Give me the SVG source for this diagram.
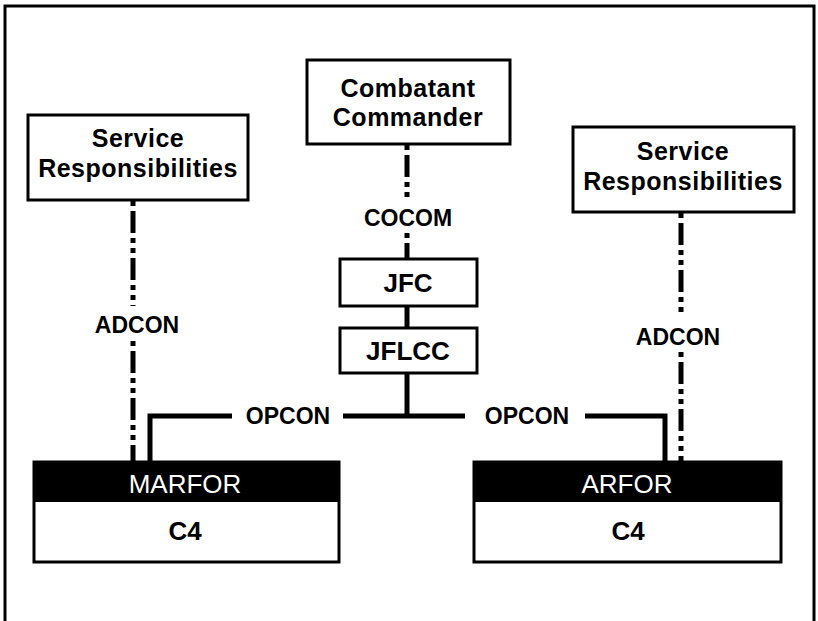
<svg xmlns="http://www.w3.org/2000/svg" width="818" height="621" viewBox="0 0 818 621">
<style>
.box{fill:#fff;stroke:#000;stroke-width:3}
.t{font-family:"Liberation Sans",Arial,sans-serif;font-weight:bold;font-size:26px;fill:#000;text-anchor:middle}
.m{font-family:"Liberation Sans",Arial,sans-serif;font-weight:bold;font-size:25px;letter-spacing:0.5px;fill:#000;text-anchor:middle}
.l{font-family:"Liberation Sans",Arial,sans-serif;font-weight:bold;font-size:23px;fill:#000;text-anchor:middle}
.w{font-family:"Liberation Sans",Arial,sans-serif;font-size:26px;fill:#fff;text-anchor:middle}
.solid{fill:none;stroke:#000;stroke-width:5}
.dash{fill:none;stroke:#000;stroke-width:5;stroke-dasharray:5 5 22 5 5 5}
</style>
<rect width="818" height="621" fill="#fff"/>
<path d="M5,621 V6 H814 V621" fill="none" stroke="#000" stroke-width="3"/>
<g id="connectors">
<path class="dash" d="M133,201 V306"/>
<path class="dash" d="M133,341 V461"/>
<path class="dash" d="M407,145 V198"/>
<path class="dash" d="M407,233 V258"/>
<path class="dash" d="M681,213 V316"/>
<path class="dash" d="M681,352 V461"/>
<path class="solid" d="M407,306 V328"/>
<path class="solid" d="M407,373 V416"/>
<path class="solid" d="M150,461 V416 H232"/>
<path class="solid" d="M343,416 H465"/>
<path class="solid" d="M585,416 H665 V461"/>
<text class="l" x="137" y="333">ADCON</text>
<text class="l" x="678" y="345">ADCON</text>
<text class="l" x="408" y="226">COCOM</text>
<text class="l" x="288" y="424">OPCON</text>
<text class="l" x="527" y="424">OPCON</text>
</g>
<g id="service-left">
<rect class="box" x="28" y="115" width="220" height="85"/>
<text class="m" x="138" y="147">Service</text>
<text class="m" x="138" y="177">Responsibilities</text>
</g>
<g id="combatant-commander">
<rect class="box" x="307" y="60" width="203" height="84"/>
<text class="m" x="408" y="97">Combatant</text>
<text class="m" x="408" y="126">Commander</text>
</g>
<g id="service-right">
<rect class="box" x="573" y="127" width="221" height="85"/>
<text class="m" x="683" y="160">Service</text>
<text class="m" x="683" y="190">Responsibilities</text>
</g>
<g id="jfc">
<rect class="box" x="340" y="259" width="137" height="47"/>
<text class="t" x="408" y="292">JFC</text>
</g>
<g id="jflcc">
<rect class="box" x="340" y="328" width="137" height="45"/>
<text class="t" x="408" y="360">JFLCC</text>
</g>
<g id="marfor">
<rect class="box" x="34" y="462" width="305" height="100"/>
<rect x="34" y="462" width="305" height="40" fill="#000"/>
<text class="w" x="185" y="493">MARFOR</text>
<text class="t" x="185" y="540">C4</text>
</g>
<g id="arfor">
<rect class="box" x="474" y="462" width="307" height="100"/>
<rect x="474" y="462" width="307" height="40" fill="#000"/>
<text class="w" x="627" y="493">ARFOR</text>
<text class="t" x="628" y="540">C4</text>
</g>
</svg>
